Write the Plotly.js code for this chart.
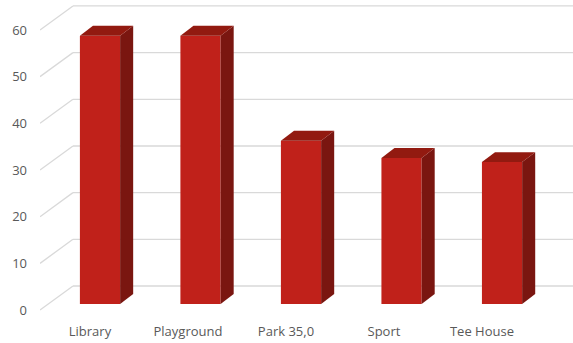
<!DOCTYPE html>
<html>
<head>
<meta charset="utf-8">
<script src="https://cdn.plot.ly/plotly-3.0.1.min.js"></script>
<style>html,body{margin:0;padding:0;background:#fff;}#chart{width:573px;height:343px;}</style>
</head>
<body>
<div id="chart"></div>
<script>
// ---- data ----
const categories = ["Library", "Playground", "Park 35,0", "Sport", "Tee House"];
const values = [57.5, 57.5, 35.0, 31.3, 30.4];
const tickLabels = [0, 10, 20, 30, 40, 50, 60];

// ---- styling / pseudo-3D geometry (in axis units) ----
const FRONT = '#C0211A', TOP = '#921A10', SIDE = '#7A1610';
const GRID = '#D9D9D9';
const BAR_W = 0.4;          // bar front width
const DEPTH_X = 0.13;       // bar depth, horizontal
const DEPTH_Y = 2.14;       // bar depth, vertical
const BACK_SHIFT = 3.86;    // back wall offset (value units)
const FRONT_SHIFT = -1.29;  // front plane offset (value units)
const X_MIN = -0.597, X_MAX = 4.706;
const BACK_LEFT = -0.269;

const idx = categories.map((c, i) => i);
const traces = [];

// front faces
traces.push({
  type: 'bar', x: idx, y: values, base: 0, width: BAR_W,
  marker: {color: FRONT, line: {width: 0}}, hoverinfo: 'skip', showlegend: false
});

// side and top faces
values.forEach((v, i) => {
  const r = i + BAR_W / 2, l = i - BAR_W / 2;
  traces.push({
    type: 'scatter', mode: 'lines', fill: 'toself', fillcolor: SIDE,
    x: [r, r + DEPTH_X, r + DEPTH_X, r, r],
    y: [0, DEPTH_Y, v + DEPTH_Y, v, 0],
    line: {width: 0, color: SIDE}, hoverinfo: 'skip', showlegend: false
  });
  traces.push({
    type: 'scatter', mode: 'lines', fill: 'toself', fillcolor: TOP,
    x: [l, l + DEPTH_X, r + DEPTH_X, r, l],
    y: [v, v + DEPTH_Y, v + DEPTH_Y, v, v],
    line: {width: 0, color: TOP}, hoverinfo: 'skip', showlegend: false
  });
});

// walls: back gridlines + side wall diagonals
const shapes = [];
tickLabels.forEach(t => {
  shapes.push({type: 'line', layer: 'below', xref: 'x', yref: 'y',
    x0: BACK_LEFT, x1: X_MAX, y0: t + BACK_SHIFT, y1: t + BACK_SHIFT,
    line: {color: GRID, width: 1.3}});
  shapes.push({type: 'line', layer: 'below', xref: 'x', yref: 'y',
    x0: X_MIN, x1: BACK_LEFT, y0: t + FRONT_SHIFT, y1: t + BACK_SHIFT,
    line: {color: GRID, width: 1.3}});
});

const layout = {
  width: 573, height: 343,
  margin: {l: 40, r: 0, t: 0, b: 23},
  paper_bgcolor: '#fff', plot_bgcolor: 'rgba(0,0,0,0)',
  font: {family: 'Open Sans, sans-serif', size: 13, color: '#595959'},
  showlegend: false,
  xaxis: {
    range: [X_MIN, X_MAX], showgrid: false, zeroline: false, showline: false,
    tickmode: 'array', tickvals: idx.map(i => i * 0.975 - 0.1), ticktext: categories,
    ticks: '', fixedrange: true, ticklabelstandoff: 2
  },
  yaxis: {
    range: [-3.43, 65.14], showgrid: false, zeroline: false, showline: false,
    tickmode: 'array', tickvals: tickLabels.map(t => t + FRONT_SHIFT),
    ticktext: tickLabels.map(String), ticks: '', fixedrange: true,
    ticklabelstandoff: 12
  },
  shapes: shapes
};

Plotly.newPlot('chart', traces, layout, {displayModeBar: false, staticPlot: true});
</script>
</body>
</html>
